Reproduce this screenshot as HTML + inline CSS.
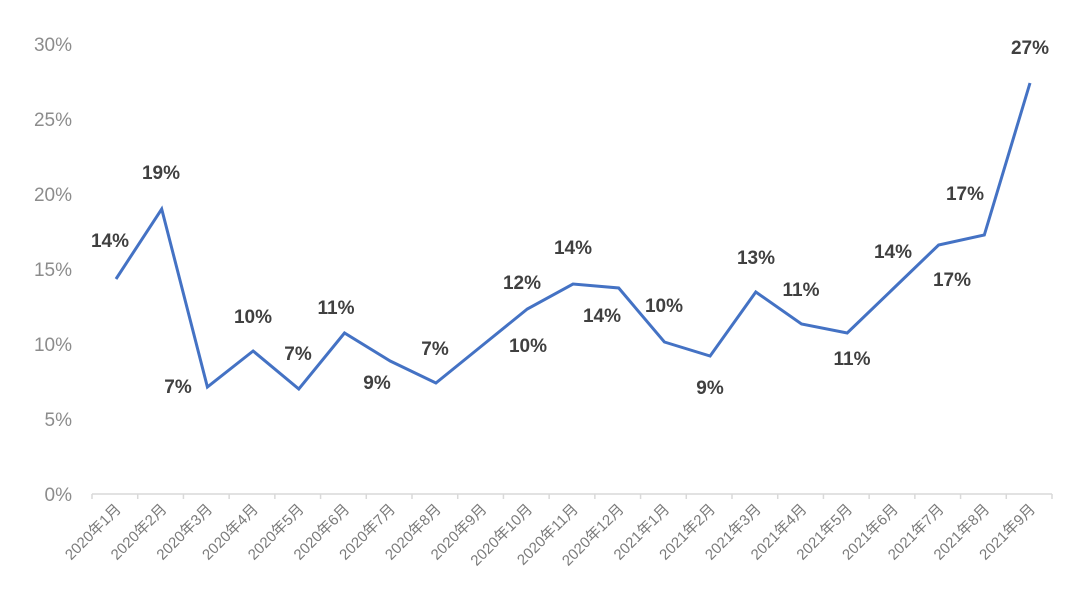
<!DOCTYPE html>
<html><head><meta charset="utf-8"><style>
html,body{margin:0;padding:0;background:#fff;}
svg{display:block;}
.y{font:19px "Liberation Sans","Noto Sans CJK SC",sans-serif;fill:#8c8c8c;}
.x{font:15px "Liberation Sans","Noto Sans CJK SC",sans-serif;fill:#7a7a7a;}
.d{font:bold 19px "Liberation Sans","Noto Sans CJK SC",sans-serif;fill:#404040;}
</style></head><body>
<svg width="1080" height="595" viewBox="0 0 1080 595">
<g class="y" text-anchor="end">
<text x="72" y="501">0%</text>
<text x="72" y="426">5%</text>
<text x="72" y="351">10%</text>
<text x="72" y="276">15%</text>
<text x="72" y="201">20%</text>
<text x="72" y="126">25%</text>
<text x="72" y="51">30%</text>
</g>
<line x1="92" y1="494" x2="1052" y2="494" stroke="#d9d9d9" stroke-width="1.5"/>
<g stroke="#d9d9d9" stroke-width="1.5" id="ticks"></g>
<g class="x" id="xl"></g>
<polyline fill="none" stroke="#4472C4" stroke-width="3" stroke-linejoin="miter" points="116,279 161.7,209 207.4,387 253.1,351 298.8,389 344.5,333 390.2,361 435.9,383 481.6,346 527.3,309 573,284 618.7,288 664.4,342 710.1,356 755.8,292 801.5,324 847.2,333 892.9,289 938.6,245 984.3,235 1030,83"/>
<g class="d" text-anchor="middle">
<text x="110" y="247">14%</text>
<text x="161" y="179">19%</text>
<text x="178" y="393">7%</text>
<text x="253" y="323">10%</text>
<text x="298" y="360">7%</text>
<text x="336" y="314">11%</text>
<text x="377" y="389">9%</text>
<text x="435" y="355">7%</text>
<text x="528" y="352">10%</text>
<text x="522" y="289">12%</text>
<text x="573" y="254">14%</text>
<text x="602" y="322">14%</text>
<text x="664" y="312">10%</text>
<text x="710" y="394">9%</text>
<text x="756" y="264">13%</text>
<text x="801" y="296">11%</text>
<text x="852" y="365">11%</text>
<text x="893" y="258">14%</text>
<text x="952" y="286">17%</text>
<text x="965" y="200">17%</text>
<text x="1030" y="54">27%</text>
</g>
</svg>
<script>
var labs=["2020年1月","2020年2月","2020年3月","2020年4月","2020年5月","2020年6月","2020年7月","2020年8月","2020年9月","2020年10月","2020年11月","2020年12月","2021年1月","2021年2月","2021年3月","2021年4月","2021年5月","2021年6月","2021年7月","2021年8月","2021年9月"];
var ns="http://www.w3.org/2000/svg",t=document.getElementById("ticks"),xl=document.getElementById("xl");
var w=960/21;
for(var i=0;i<=21;i++){var l=document.createElementNS(ns,"line");var x=92+i*w;l.setAttribute("x1",x);l.setAttribute("x2",x);l.setAttribute("y1",494);l.setAttribute("y2",499);t.appendChild(l);}
labs.forEach(function(s,i){var c=92+w*(i+0.5)+7;var e=document.createElementNS(ns,"text");e.setAttribute("x",c);e.setAttribute("y",510);e.setAttribute("text-anchor","end");e.setAttribute("transform","rotate(-45 "+c+" 510)");e.textContent=s;xl.appendChild(e);});
</script>
</body></html>
